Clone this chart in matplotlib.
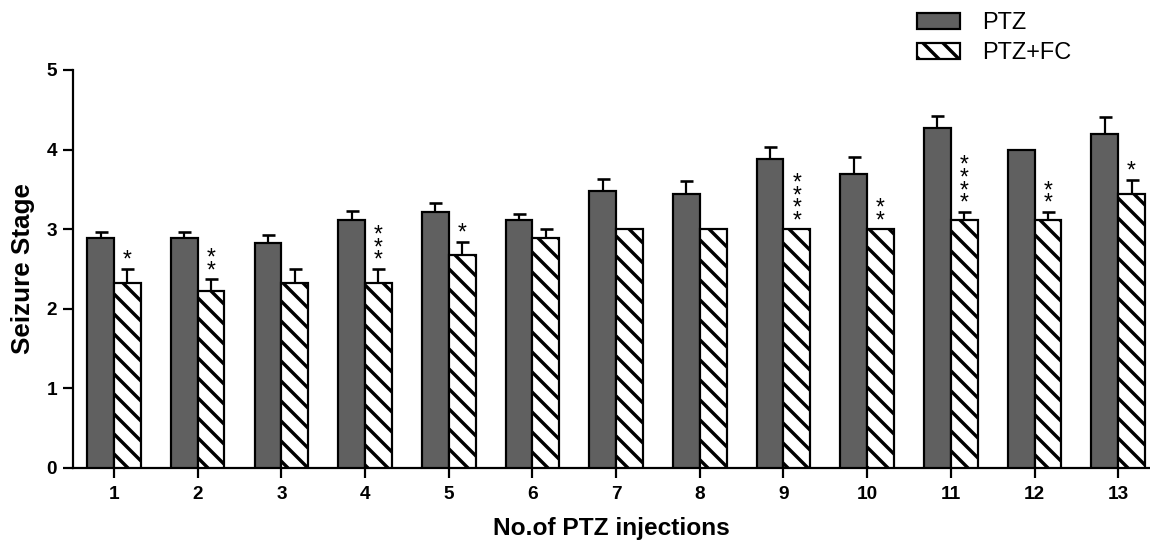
import numpy as np
import matplotlib
matplotlib.use("Agg")
import matplotlib.pyplot as plt

# ---- data ----
injections = ["1", "2", "3", "4", "5", "6", "7", "8", "9", "10", "11", "12", "13"]
ptz_mean = [2.89, 2.89, 2.83, 3.11, 3.22, 3.11, 3.48, 3.44, 3.88, 3.69, 4.27, 4.00, 4.20]
ptz_sem = [0.07, 0.07, 0.10, 0.12, 0.11, 0.08, 0.15, 0.17, 0.15, 0.22, 0.15, 0.00, 0.21]
fc_mean = [2.33, 2.22, 2.33, 2.33, 2.67, 2.89, 3.00, 3.00, 3.00, 3.00, 3.11, 3.11, 3.44]
fc_sem = [0.17, 0.15, 0.17, 0.17, 0.17, 0.11, 0.00, 0.00, 0.00, 0.00, 0.11, 0.11, 0.18]
stars = [1, 2, 0, 3, 1, 0, 0, 0, 4, 2, 4, 2, 1]
series_labels = ["PTZ", "PTZ+FC"]
yticks = [0, 1, 2, 3, 4, 5]

DPI = 120
W, H = 1150, 542
PT = 72.0 / DPI  # px -> pt

plt.rcParams['font.family'] = ['Liberation Sans', 'DejaVu Sans']
plt.rcParams['hatch.linewidth'] = 3.4 * PT

fig = plt.figure(figsize=(W / DPI, H / DPI), dpi=DPI)
ax = fig.add_axes([73 / W, 1 - 468 / H, 1 - 73 / W, (468 - 70) / H])

x = np.arange(1, len(injections) + 1)
w = 0.32
ptz_c = '#606060'
lw = 2.2 * PT

b1 = ax.bar(x - w / 2, ptz_mean, w, color=ptz_c, edgecolor='black', linewidth=lw,
            label=series_labels[0], zorder=3)
b2 = ax.bar(x + w / 2, fc_mean, w, color='white', edgecolor='black', linewidth=lw,
            hatch='\\\\', label=series_labels[1], zorder=3)


def draw_err(xpos, means, sems):
    xpos = np.asarray(xpos)
    means = np.asarray(means)
    sems = np.asarray(sems)
    keep = sems > 0
    ax.errorbar(xpos[keep], means[keep], yerr=[np.zeros(keep.sum()), sems[keep]],
                fmt='none', ecolor='black', elinewidth=2.2 * PT, capsize=6.5 * PT,
                capthick=2.6 * PT, zorder=2)


draw_err(x - w / 2, ptz_mean, ptz_sem)
draw_err(x + w / 2, fc_mean, fc_sem)

star_fs = 23 * PT
for xi, m, e, n in zip(x, fc_mean, fc_sem, stars):
    if n == 0:
        continue
    ax.annotate('\n'.join(['*'] * n), (xi + w / 2, m + e), xytext=(0, -3 * PT),
                textcoords='offset points', ha='center', va='bottom',
                fontsize=star_fs, linespacing=0.42, zorder=5)

ax.set_xlim(0.51, 13.38)
ax.set_ylim(0, 5)
ax.set_xticks(x)
ax.set_xticklabels(injections)
ax.set_yticks(yticks)

for s in ['top', 'right']:
    ax.spines[s].set_visible(False)
for s in ['left', 'bottom']:
    ax.spines[s].set_linewidth(2.2 * PT)

ax.tick_params(axis='both', length=10 * PT, width=2.2 * PT, labelsize=19 * PT)
ax.tick_params(axis='x', pad=8 * PT)
ax.tick_params(axis='y', pad=6 * PT)
for lab in ax.get_xticklabels() + ax.get_yticklabels():
    lab.set_fontweight('bold')

ax.set_xlabel('No.of PTZ injections', fontsize=24.5 * PT, fontweight='bold', labelpad=14 * PT)
ax.set_ylabel('Seizure Stage', fontsize=26 * PT, fontweight='bold', labelpad=11 * PT)

leg = fig.legend(handles=[b1, b2], labels=series_labels, loc='upper left',
                 bbox_to_anchor=(917 / W, 1 - 11 / H), bbox_transform=fig.transFigure,
                 frameon=False, fontsize=23.5 * PT, handlelength=1.83, handleheight=0.68,
                 handletextpad=0.95, labelspacing=0.3, borderpad=0, borderaxespad=0)

fig.savefig('out.png', dpi=DPI)
